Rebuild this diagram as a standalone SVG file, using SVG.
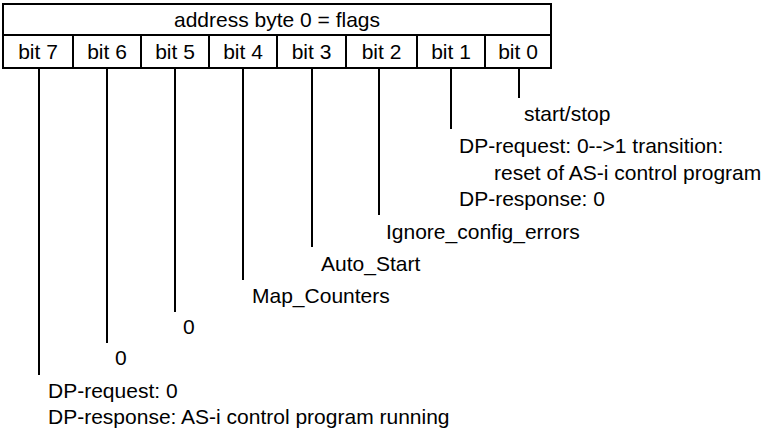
<svg xmlns="http://www.w3.org/2000/svg" width="769" height="428" viewBox="0 0 769 428">
<style>
text{font-family:"Liberation Sans",Arial,sans-serif;font-size:21px;fill:#000}
.c{text-anchor:middle}
.b{fill:none;stroke:#000;stroke-width:2}
.l{stroke:#000;stroke-width:2;fill:none}
</style>
<rect width="769" height="428" fill="#fff"/>
<g id="table">
<rect class="b" x="3" y="4" width="548" height="64"/>
<line class="b" x1="3" y1="35" x2="551" y2="35"/>
<line class="b" x1="73" y1="35" x2="73" y2="68"/>
<line class="b" x1="141" y1="35" x2="141" y2="68"/>
<line class="b" x1="209" y1="35" x2="209" y2="68"/>
<line class="b" x1="277" y1="35" x2="277" y2="68"/>
<line class="b" x1="346" y1="35" x2="346" y2="68"/>
<line class="b" x1="417" y1="35" x2="417" y2="68"/>
<line class="b" x1="485" y1="35" x2="485" y2="68"/>
<text class="c" x="277" y="27">address byte 0 = flags</text>
<text class="c" x="38" y="59">bit 7</text>
<text class="c" x="107" y="59">bit 6</text>
<text class="c" x="175" y="59">bit 5</text>
<text class="c" x="243" y="59">bit 4</text>
<text class="c" x="311.5" y="59">bit 3</text>
<text class="c" x="381.5" y="59">bit 2</text>
<text class="c" x="451" y="59">bit 1</text>
<text class="c" x="518" y="59">bit 0</text>
</g>
<g id="connectors">
<line class="l" x1="39" y1="68" x2="39" y2="375"/>
<line class="l" x1="107" y1="68" x2="107" y2="343"/>
<line class="l" x1="175" y1="68" x2="175" y2="312"/>
<line class="l" x1="243" y1="68" x2="243" y2="280"/>
<line class="l" x1="312" y1="68" x2="312" y2="247"/>
<line class="l" x1="379" y1="68" x2="379" y2="215"/>
<line class="l" x1="451" y1="68" x2="451" y2="129"/>
<line class="l" x1="519" y1="68" x2="519" y2="98"/>
</g>
<g id="bit0"><text x="524" y="121">start/stop</text></g>
<g id="bit1">
<text x="459" y="153">DP-request: 0--&gt;1 transition:</text>
<text x="494" y="179.5">reset of AS-i control program</text>
<text x="459" y="206">DP-response: 0</text>
</g>
<g id="bit2"><text x="386" y="239">Ignore_config_errors</text></g>
<g id="bit3"><text x="321" y="271">Auto_Start</text></g>
<g id="bit4"><text x="252" y="303">Map_Counters</text></g>
<g id="bit5"><text x="183" y="334">0</text></g>
<g id="bit6"><text x="115" y="365">0</text></g>
<g id="bit7">
<text x="48" y="398">DP-request: 0</text>
<text x="48" y="424">DP-response: AS-i control program running</text>
</g>
</svg>
